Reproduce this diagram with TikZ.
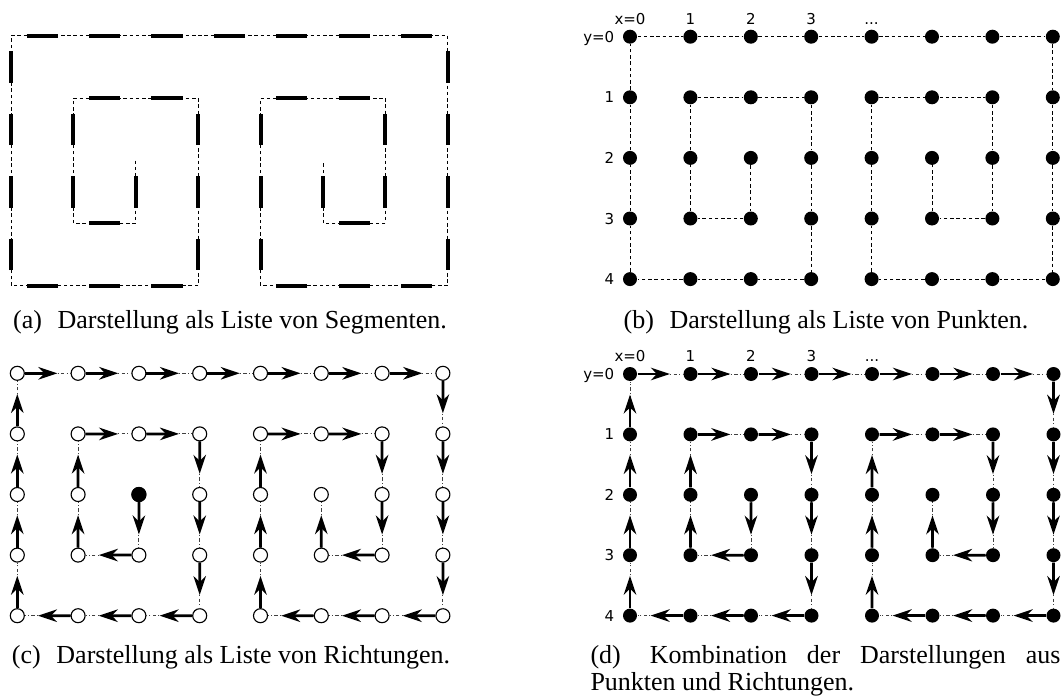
\documentclass[tikz,border=0pt]{standalone}
\usepackage{fontspec}
\setmainfont{Liberation Serif}
\newfontfamily\achsenfont{DejaVu Sans}
\usepackage{tikz}
\usetikzlibrary{positioning, arrows.meta, calc}

% Weg der Spirale, Start bei (2,2)
\newcommand{\spirale}{2/3, 1/3, 1/2, 1/1, 2/1, 3/1, 3/2, 3/3, 3/4, 2/4, 1/4, 0/4,
  0/3, 0/2, 0/1, 0/0, 1/0, 2/0, 3/0, 4/0, 5/0, 6/0, 7/0, 7/1, 7/2, 7/3, 7/4,
  6/4, 5/4, 4/4, 4/3, 4/2, 4/1, 5/1, 6/1, 6/2, 6/3, 5/3, 5/2}

\begin{document}
\begin{tikzpicture}[x=0.4pt, y=-0.4pt,
  font=\fontsize{10.4}{10.8}\selectfont,
  punkt/.style={circle, fill=black, inner sep=0pt, minimum size=5.6pt},
  kreis/.style={circle, draw=black, fill=white, line width=0.45pt,
    inner sep=0pt, minimum size=5.6pt},
  achse/.style={font=\achsenfont\fontsize{6}{6.5}\selectfont, inner sep=0pt,
    text height=4.4pt, text depth=0pt},
  linie/.style={line width=0.4pt, dash pattern=on 1.4pt off 1.1pt},
  strichpunkt/.style={line width=0.4pt, black!75,
    dash pattern=on 1.4pt off 0.9pt on 0.4pt off 0.9pt},
  segment/.style={line width=1.6pt},
  pfeil/.style={-{Stealth[length=7.6pt, width=5pt, inset=2.4pt]}, line width=1.1pt},
  unterschrift/.style={anchor=base, inner sep=0pt}]

\useasboundingbox (0,0) rectangle (1062,700);

% (a) Segmente
\begin{scope}[shift={(11,35.7)}]
  \foreach \i in {0,...,7}
    \foreach \j in {0,...,4}
      \coordinate (a-\i-\j) at ({\i*62.4},{\j*62.5});
  \foreach \i/\j [remember=\i as \vi (initially 2), remember=\j as \vj (initially 2)] in \spirale {
    \draw[linie] (a-\vi-\vj) -- (a-\i-\j);
    \draw[segment] ($(a-\vi-\vj)!0.25!(a-\i-\j)$) -- ($(a-\vi-\vj)!0.75!(a-\i-\j)$);
  }
\end{scope}

% (b) Punkte
\begin{scope}[shift={(630,36.7)}]
  \foreach \i in {0,...,7}
    \foreach \j in {0,...,4}
      \node[punkt] (b-\i-\j) at ({\i*60.4},{\j*60.6}) {};
  \foreach \i/\j [remember=\i as \vi (initially 2), remember=\j as \vj (initially 2)] in \spirale
    \draw[linie] (b-\vi-\vj) -- (b-\i-\j);
  \node[achse, above=1.8pt of b-0-0] (bx0) {x=0};
  \node[achse, above=1.8pt of b-1-0] (bx1) {1};
  \node[achse, above=1.8pt of b-2-0] (bx2) {2};
  \node[achse, above=1.8pt of b-3-0] (bx3) {3};
  \node[achse, above=1.8pt of b-4-0] (bx4) {...};
  \node[achse, left=3.1pt of b-0-0] (by0) {y=0};
  \foreach \j in {1,...,4}
    \node[achse, left=3.1pt of b-0-\j] (by\j) {\j};
\end{scope}

% (c) Richtungen
\begin{scope}[shift={(17.3,373.3)}]
  \foreach \i in {0,...,7}
    \foreach \j in {0,...,4}
      \node[kreis] (c-\i-\j) at ({\i*60.8},{\j*60.6}) {};
  \node[kreis, fill=black] (c-start) at (c-2-2) {};
  \foreach \i/\j [remember=\i as \vi (initially 2), remember=\j as \vj (initially 2)] in \spirale {
    \draw[strichpunkt] (c-\vi-\vj) -- (c-\i-\j);
    \draw[pfeil] (c-\vi-\vj) -- ($(c-\vi-\vj)!0.66!(c-\i-\j)$);
  }
\end{scope}

% (d) Punkte und Richtungen
\begin{scope}[shift={(630,374)}]
  \foreach \i in {0,...,7}
    \foreach \j in {0,...,4}
      \node[punkt] (d-\i-\j) at ({\i*60.5},{\j*60.4}) {};
  \foreach \i/\j [remember=\i as \vi (initially 2), remember=\j as \vj (initially 2)] in \spirale {
    \draw[strichpunkt] (d-\vi-\vj) -- (d-\i-\j);
    \draw[pfeil] (d-\vi-\vj) -- ($(d-\vi-\vj)!0.66!(d-\i-\j)$);
  }
  \node[achse, above=1.8pt of d-0-0] (dx0) {x=0};
  \node[achse, above=1.8pt of d-1-0] (dx1) {1};
  \node[achse, above=1.8pt of d-2-0] (dx2) {2};
  \node[achse, above=1.8pt of d-3-0] (dx3) {3};
  \node[achse, above=1.8pt of d-4-0] (dx4) {...};
  \node[achse, left=3.1pt of d-0-0] (dy0) {y=0};
  \foreach \j in {1,...,4}
    \node[achse, left=3.1pt of d-0-\j] (dy\j) {\j};
\end{scope}

% Unterschriften
\node[unterschrift] (cap-a) at (230,328) {(a)\hspace{0.35em} Darstellung als Liste von Segmenten.};
\node[unterschrift] (cap-b) at (826,328) {(b)\hspace{0.35em} Darstellung als Liste von Punkten.};
\node[unterschrift] (cap-c) at (231,663) {(c)\hspace{0.35em} Darstellung als Liste von Richtungen.};
\node[unterschrift, anchor=base west, text width=188pt, align=justify] (cap-d) at (590,663)
  {(d)\hspace{0.35em} Kombination der Darstellungen aus\linebreak Punkten und Richtungen.};
\end{tikzpicture}
\end{document}
